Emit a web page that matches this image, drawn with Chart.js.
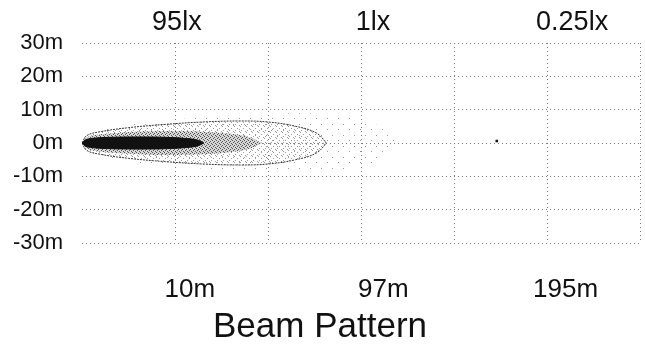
<!DOCTYPE html>
<html>
<head>
<meta charset="utf-8">
<script src="https://cdn.jsdelivr.net/npm/chart.js@4"></script>
<style>
  html, body { margin: 0; padding: 0; background: #fff; }
  canvas { display: block; }
</style>
</head>
<body>
<canvas id="beam" width="645" height="351"></canvas>
<script>
// lux levels across the top, distances across the bottom
const luxLabels = ["95lx", "1lx", "0.25lx"];
const distLabels = ["10m", "97m", "195m"];
const luxAt = [10.2, 31.3, 52.7];
const distAt = [11.6, 32.4, 52.0];
const yTicks = [30, 20, 10, 0, -10, -20, -30];

// beam contours: distance along the beam and half width (m)
const coreDist = [0, 0.4, 1.5, 3, 5, 7, 9, 11, 12.4, 13.1];
const coreHalf = [0, 1.0, 1.5, 1.7, 1.8, 1.8, 1.7, 1.4, 0.9, 0];

const midDist = [0, 0.6, 2, 4, 7, 10, 13, 15.5, 17.8, 19.4];
const midHalf = [0, 1.8, 2.6, 3.1, 3.5, 3.6, 3.4, 2.9, 1.9, 0];

const rimDist = [0, 0.5, 2, 5, 9, 13, 17, 20, 23, 25.2, 26.3];
const rimHalf = [0, 2.2, 3.4, 4.6, 5.6, 6.3, 6.6, 6.3, 5.0, 3.0, 0];

const haloDist = [0, 3, 8, 14, 20, 25, 29, 32, 34.2];
const haloHalf = [0, 4.5, 6.5, 7.8, 8.6, 8.8, 7.6, 5.0, 0];

const farSpot = [{ x: 44.6, y: 0.6 }];

function speckle(size, bg, dots, color) {
  const c = document.createElement("canvas");
  c.width = size;
  c.height = size;
  const g = c.getContext("2d");
  if (bg) {
    g.fillStyle = bg;
    g.fillRect(0, 0, size, size);
  }
  g.fillStyle = color;
  dots.forEach(d => g.fillRect(d[0], d[1], 1, 1));
  return g.createPattern(c, "repeat");
}

const ctx = document.getElementById("beam").getContext("2d");
const midFill = speckle(4, "#d6d6d6", [[0, 0], [2, 1], [1, 2], [3, 3]], "#555");
const rimFill = speckle(6, null, [[0, 0], [3, 2], [1, 4], [5, 5]], "#999");
const haloFill = speckle(11, null, [[2, 3], [8, 8]], "#999");

function band(dist, half, opts) {
  const up = dist.map((x, i) => ({ x: x, y: half[i] }));
  const down = dist.map((x, i) => ({ x: x, y: -half[i] }));
  const line = {
    showLine: true,
    pointRadius: 0,
    tension: 0.4,
    borderColor: opts.line,
    borderWidth: opts.width,
    borderDash: opts.dash || [],
  };
  return [
    Object.assign({ data: up, fill: false }, line),
    Object.assign({ data: down, fill: "-1", backgroundColor: opts.fill }, line),
  ];
}

const font = "'Liberation Sans', Arial, sans-serif";

const datasets = [
  { data: farSpot, pointStyle: "rect", pointRadius: 1.8, backgroundColor: "#111", borderWidth: 0 },
  ...band(coreDist, coreHalf, { line: "#111", width: 1, fill: "#111" }),
  ...band(midDist, midHalf, { line: "rgba(0,0,0,0)", width: 0, fill: midFill }),
  ...band(rimDist, rimHalf, { line: "#333", width: 1, dash: [2, 1], fill: rimFill }),
  ...band(haloDist, haloHalf, { line: "rgba(0,0,0,0)", width: 0, fill: haloFill }),
];

new Chart(ctx, {
  type: "scatter",
  data: { datasets: datasets },
  options: {
    responsive: false,
    animation: false,
    layout: { padding: { left: 0, right: 5, top: 0, bottom: 3 } },
    plugins: {
      legend: { display: false },
      tooltip: { enabled: false },
      title: {
        display: true,
        position: "bottom",
        text: "Beam Pattern",
        color: "#111",
        font: { family: font, size: 35, weight: "normal" },
        padding: { top: 0, bottom: 0 },
      },
    },
    scales: {
      x: {
        type: "linear",
        min: 0,
        max: 60,
        position: "bottom",
        afterFit: ax => { ax.height = 0; },
        ticks: { display: false, stepSize: 10 },
        grid: {
          drawTicks: false,
          color: c => (c.tick && c.tick.value === 0 ? "rgba(0,0,0,0)" : "#7a7a7a"),
        },
        border: { display: false, dash: [1, 3] },
      },
      xBottom: {
        type: "linear",
        min: 0,
        max: 60,
        position: "bottom",
        afterBuildTicks: ax => { ax.ticks = distAt.map(v => ({ value: v })); },
        afterFit: ax => { ax.height = 63; },
        ticks: {
          autoSkip: false,
          maxRotation: 0,
          padding: 31,
          color: "#111",
          font: { family: font, size: 26 },
          callback: (v, i) => distLabels[i],
        },
        grid: { display: false, drawTicks: false },
        border: { display: false },
      },
      xTop: {
        type: "linear",
        min: 0,
        max: 60,
        position: "top",
        afterBuildTicks: ax => { ax.ticks = luxAt.map(v => ({ value: v })); },
        afterFit: ax => { ax.height = 43; },
        ticks: {
          autoSkip: false,
          maxRotation: 0,
          padding: 4,
          color: "#111",
          font: { family: font, size: 27 },
          callback: (v, i) => luxLabels[i],
        },
        grid: { display: false, drawTicks: false },
        border: { display: false },
      },
      y: {
        type: "linear",
        min: -30,
        max: 30,
        afterBuildTicks: ax => { ax.ticks = yTicks.map(v => ({ value: v })); },
        afterFit: ax => { ax.width = 82; },
        ticks: {
          padding: 19,
          color: "#111",
          font: { family: font, size: 22 },
          callback: v => v + "m",
        },
        grid: { drawTicks: false, color: "#7a7a7a" },
        border: { display: false, dash: [1, 3] },
      },
    },
  },
});
</script>
</body>
</html>
